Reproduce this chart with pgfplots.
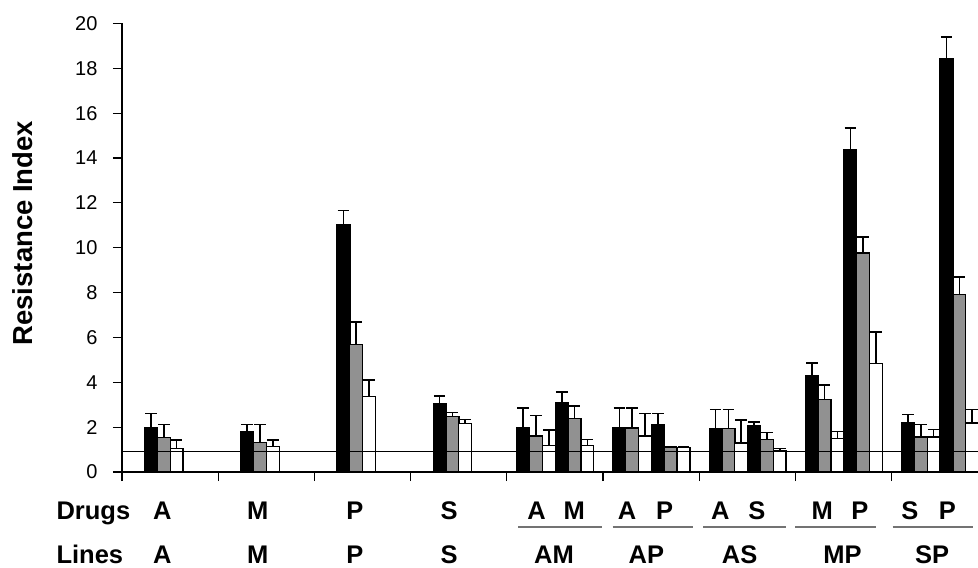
\documentclass[border=0pt]{standalone}
\usepackage{pgfplots}
\pgfplotsset{compat=1.18}
\usepackage{fontspec}
\setmainfont{Liberation Sans}
\newcommand\lab{\fontsize{25.5}{30}\selectfont\bfseries}
\begin{document}
\begin{tikzpicture}
\useasboundingbox (-122pt,-96pt) rectangle (856pt,472pt);
\begin{axis}[
  scale only axis,
  width=856pt, height=448.6pt,
  xmin=0, xmax=8.898, ymin=0, ymax=20,
  axis x line=bottom, axis y line=left,
  axis line style={-, line width=1.2pt, black},
  clip mode=individual,
  xtick={0,1,2,3,4,5,6,7,8}, xticklabels={},
  ytick={0,2,...,20},
  tick align=outside,
  major tick length=9pt,
  tick style={line width=1.2pt, black},
  /pgf/number format/assume math mode=true,
  yticklabel shift=12pt,
  yticklabel style={font=\fontsize{20}{24}\selectfont},
  error bars/y dir=plus, error bars/y explicit,
  error bars/error bar style={line width=1.6pt, black},
  error bars/error mark options={rotate=90, mark size=5.8pt, line width=1.6pt, black},
]
% black series
\addplot[ybar, bar width=0.1333, bar shift=0pt, fill=black, draw=black, line width=1.3pt]
coordinates {
(0.302,1.96) +- (0,0.65)
(1.302,1.80) +- (0,0.31)
(2.302,11.04) +- (0,0.61)
(3.302,3.05) +- (0,0.33)
(4.171,1.96) +- (0,0.88)
(4.571,3.09) +- (0,0.49)
(5.171,1.96) +- (0,0.88)
(5.571,2.11) +- (0,0.49)
(6.171,1.93) +- (0,0.86)
(6.571,2.07) +- (0,0.16)
(7.171,4.29) +- (0,0.56)
(7.571,14.37) +- (0,0.97)
(8.171,2.18) +- (0,0.39)
(8.571,18.45) +- (0,0.95)
};
% gray series
\addplot[ybar, bar width=0.1333, bar shift=0pt, fill=black!43, draw=black, line width=1.3pt]
coordinates {
(0.435,1.54) +- (0,0.57)
(1.435,1.30) +- (0,0.81)
(2.435,5.69) +- (0,0.99)
(3.435,2.49) +- (0,0.16)
(4.304,1.60) +- (0,0.92)
(4.704,2.37) +- (0,0.57)
(5.304,1.96) +- (0,0.88)
(5.704,1.10) +- (0,0.03)
(6.304,1.93) +- (0,0.86)
(6.704,1.44) +- (0,0.33)
(7.304,3.24) +- (0,0.64)
(7.704,9.76) +- (0,0.73)
(8.304,1.56) +- (0,0.55)
(8.704,7.90) +- (0,0.80)
};
% white series
\addplot[ybar, bar width=0.1333, bar shift=0pt, fill=white, draw=black, line width=1.3pt]
coordinates {
(0.568,1.04) +- (0,0.39)
(1.568,1.15) +- (0,0.28)
(2.568,3.38) +- (0,0.71)
(3.568,2.16) +- (0,0.18)
(4.437,1.19) +- (0,0.67)
(4.837,1.19) +- (0,0.26)
(5.437,1.60) +- (0,1.00)
(5.837,1.08) +- (0,0.03)
(6.437,1.29) +- (0,1.04)
(6.837,0.95) +- (0,0.10)
(7.437,1.50) +- (0,0.30)
(7.837,4.85) +- (0,1.38)
(8.437,1.56) +- (0,0.33)
(8.837,2.18) +- (0,0.61)
};
% reference line
\addplot[black, line width=1pt, forget plot] coordinates {(0,0.9) (8.898,0.9)};

% y label
\node[rotate=90, font=\fontsize{27.5}{32}\selectfont\bfseries] at ([xshift=-99pt]axis cs:0,10.65) {Resistance Index};

% Drugs row
\node[anchor=base west, font=\lab] at ([xshift=-69pt, yshift=-47pt]axis cs:0,0) {Drugs};
\node[anchor=base, font=\lab] at ([yshift=-47pt]axis cs:0.42,0) {A};
\node[anchor=base, font=\lab] at ([yshift=-47pt]axis cs:1.41,0) {M};
\node[anchor=base, font=\lab] at ([yshift=-47pt]axis cs:2.42,0) {P};
\node[anchor=base, font=\lab] at ([yshift=-47pt]axis cs:3.40,0) {S};
\node[anchor=base, font=\lab] at ([yshift=-47pt]axis cs:4.31,0) {A};
\node[anchor=base, font=\lab] at ([yshift=-47pt]axis cs:4.70,0) {M};
\node[anchor=base, font=\lab] at ([yshift=-47pt]axis cs:5.25,0) {A};
\node[anchor=base, font=\lab] at ([yshift=-47pt]axis cs:5.64,0) {P};
\node[anchor=base, font=\lab] at ([yshift=-47pt]axis cs:6.22,0) {A};
\node[anchor=base, font=\lab] at ([yshift=-47pt]axis cs:6.60,0) {S};
\node[anchor=base, font=\lab] at ([yshift=-47pt]axis cs:7.28,0) {M};
\node[anchor=base, font=\lab] at ([yshift=-47pt]axis cs:7.67,0) {P};
\node[anchor=base, font=\lab] at ([yshift=-47pt]axis cs:8.19,0) {S};
\node[anchor=base, font=\lab] at ([yshift=-47pt]axis cs:8.58,0) {P};

% underlines
\draw[black!55, line width=2.2pt] ([yshift=-55pt]axis cs:4.12,0) -- ([yshift=-55pt]axis cs:4.99,0);
\draw[black!55, line width=2.2pt] ([yshift=-55pt]axis cs:5.10,0) -- ([yshift=-55pt]axis cs:5.94,0);
\draw[black!55, line width=2.2pt] ([yshift=-55pt]axis cs:6.04,0) -- ([yshift=-55pt]axis cs:6.90,0);
\draw[black!55, line width=2.2pt] ([yshift=-55pt]axis cs:7.00,0) -- ([yshift=-55pt]axis cs:7.84,0);
\draw[black!55, line width=2.2pt] ([yshift=-55pt]axis cs:8.01,0) -- ([yshift=-55pt]axis cs:8.85,0);

% Lines row
\node[anchor=base west, font=\lab] at ([xshift=-69pt, yshift=-91pt]axis cs:0,0) {Lines};
\node[anchor=base, font=\lab] at ([yshift=-91pt]axis cs:0.42,0) {A};
\node[anchor=base, font=\lab] at ([yshift=-91pt]axis cs:1.41,0) {M};
\node[anchor=base, font=\lab] at ([yshift=-91pt]axis cs:2.42,0) {P};
\node[anchor=base, font=\lab] at ([yshift=-91pt]axis cs:3.40,0) {S};
\node[anchor=base, font=\lab] at ([yshift=-91pt]axis cs:4.49,0) {AM};
\node[anchor=base, font=\lab] at ([yshift=-91pt]axis cs:5.45,0) {AP};
\node[anchor=base, font=\lab] at ([yshift=-91pt]axis cs:6.42,0) {AS};
\node[anchor=base, font=\lab] at ([yshift=-91pt]axis cs:7.49,0) {MP};
\node[anchor=base, font=\lab] at ([yshift=-91pt]axis cs:8.42,0) {SP};
\end{axis}
\end{tikzpicture}
\end{document}
